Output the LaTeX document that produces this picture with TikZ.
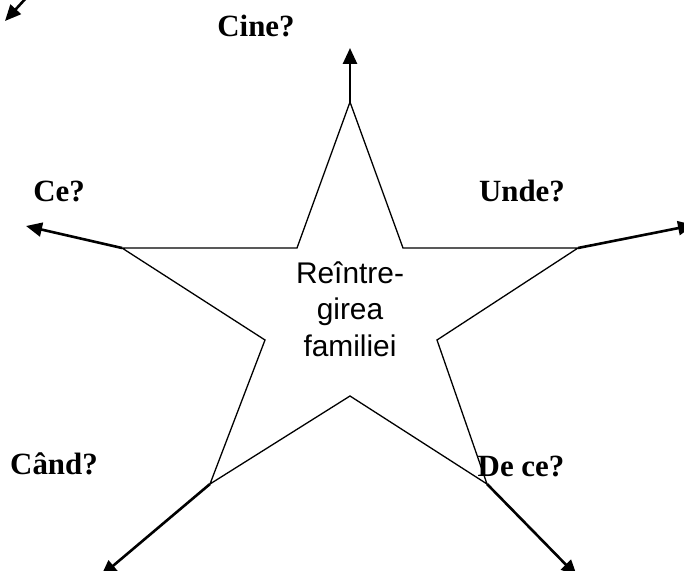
\documentclass[tikz,border=0pt]{standalone}
\usepackage{fontspec}
\setmainfont{Liberation Serif}
\newfontfamily\arialf{Liberation Sans}
\usetikzlibrary{arrows.meta}
\begin{document}
\begin{tikzpicture}[x=1bp,y=-1bp,
  starline/.style={line width=1.3bp, line join=miter},
  ray/.style={line width=2.6bp, -{Triangle[length=16bp,width=14bp]}},
  qlabel/.style={font=\fontsize{31}{34}\selectfont\bfseries, inner sep=0pt},
  centertext/.style={font=\arialf\fontsize{30}{36.5}\selectfont, align=center, inner sep=0pt}]
\useasboundingbox (0,0) rectangle (684,571);
\clip (0,0) rectangle (684,571);
% star vertices
\coordinate (T) at (350,102);
\coordinate (ITL) at (297,248);
\coordinate (L) at (122,248);
\coordinate (IL) at (265,340);
\coordinate (BL) at (210,484);
\coordinate (IB) at (350,396);
\coordinate (BR) at (487,484);
\coordinate (IR) at (437,340);
\coordinate (R) at (578,248);
\coordinate (ITR) at (403,248);
% ray ends
\coordinate (eT) at (350,48);
\coordinate (eL) at (26,226);
\coordinate (eR) at (694,225);
\coordinate (eBL) at (101,576);
\coordinate (eBR) at (577,576);
\coordinate (cA) at (27,-3);
\coordinate (cB) at (5,21);
\draw[starline] (T) -- (ITL) -- (L) -- (IL) -- (BL) -- (IB) -- (BR) -- (IR) -- (R) -- (ITR) -- cycle;
\draw[ray] (T) -- (eT);
\draw[ray] (L) -- (eL);
\draw[ray] (R) -- (eR);
\draw[ray] (BL) -- (eBL);
\draw[ray] (BR) -- (eBR);
\draw[ray] (cA) -- (cB);
\node[qlabel] (cine) at (256,26) {Cine?};
\node[qlabel] (ce) at (59,191) {Ce?};
\node[qlabel] (unde) at (522,191) {Unde?};
\node[qlabel] (cand) at (54,464) {Când?};
\node[qlabel] (dece) at (521,466) {De ce?};
\node[centertext] (center) at (350,309) {Reîntre-\\girea\\familiei};
\end{tikzpicture}
\end{document}
